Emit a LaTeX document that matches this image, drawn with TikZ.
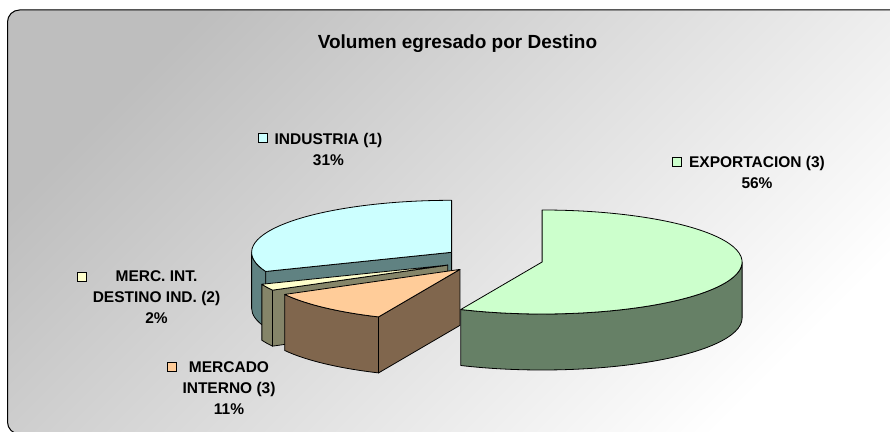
\documentclass[tikz,border=0pt]{standalone}
\usepackage{fontspec}
\setmainfont{Liberation Sans}
\usetikzlibrary{calc}
\definecolor{indTop}{HTML}{CCFFFF}
\definecolor{indSide}{RGB}{96,130,130}
\definecolor{merTop}{HTML}{FFFFCC}
\definecolor{merSide}{RGB}{133,133,105}
\definecolor{intTop}{HTML}{FFCC99}
\definecolor{intSide}{RGB}{128,102,77}
\definecolor{expTop}{HTML}{CCFFCC}
\definecolor{expSide}{RGB}{102,128,102}
\definecolor{bgDark}{RGB}{190,190,190}
\tikzset{
  face/.style={draw=black, line width=0.8pt, line join=round},
  lbl/.style={anchor=north, inner sep=0pt, align=center, font=\fontsize{15.5}{21}\selectfont\bfseries},
  keybox/.style={draw=black, line width=0.7pt, minimum size=9pt, inner sep=0pt}
}
\begin{document}
\begin{tikzpicture}[x=1pt, y=1pt]
\useasboundingbox (0,0) rectangle (890,431);
\fill[white] (0,0) rectangle (890,431);
\shadedraw[rounded corners=12pt, top color=bgDark, bottom color=white, shading angle=45, line width=1pt] (7.5,-3) rectangle (910,421);
\node[anchor=base, font=\fontsize{19}{23}\selectfont\bfseries] (title) at (457.5,382.7) {Volumen egresado por Destino};

\coordinate (apexInd) at (451.6,178.7);
\coordinate (apexMer) at (447.8,165.9);
\coordinate (apexInt) at (459.9,161.6);
\coordinate (apexExp) at (542.1,169.0);

\filldraw[face, fill=indSide] ($(apexInd)+(180:200 and 52)$) arc[start angle=180, end angle=201.6, x radius=200, y radius=52] -- ++(0,-56) arc[start angle=201.6, end angle=180, x radius=200, y radius=52] -- cycle;
\filldraw[face, fill=indSide] (apexInd) -- ++(201.6:200 and 52) -- ++(0,-56) -- ($(apexInd)+(0,-56)$) -- cycle;
\filldraw[face, fill=indTop] (apexInd) -- ++(90:200 and 52) arc[start angle=90, end angle=201.6, x radius=200, y radius=52] -- cycle;

\filldraw[face, fill=merSide] ($(apexMer)+(201.6:200 and 52)$) arc[start angle=201.6, end angle=208.8, x radius=200, y radius=52] -- ++(0,-56) arc[start angle=208.8, end angle=201.6, x radius=200, y radius=52] -- cycle;
\filldraw[face, fill=merSide] (apexMer) -- ++(208.8:200 and 52) -- ++(0,-56) -- ($(apexMer)+(0,-56)$) -- cycle;
\filldraw[face, fill=merTop] (apexMer) -- ++(201.6:200 and 52) arc[start angle=201.6, end angle=208.8, x radius=200, y radius=52] -- cycle;

\filldraw[face, fill=intSide] ($(apexInt)+(208.8:200 and 52)$) arc[start angle=208.8, end angle=246, x radius=200, y radius=52] -- ++(0,-56) arc[start angle=246, end angle=208.8, x radius=200, y radius=52] -- cycle;
\filldraw[face, fill=intSide] (apexInt) -- ++(246:200 and 52) -- ++(0,-56) -- ($(apexInt)+(0,-56)$) -- cycle;
\filldraw[face, fill=intTop] (apexInt) -- ++(208.8:200 and 52) arc[start angle=208.8, end angle=246, x radius=200, y radius=52] -- cycle;

\filldraw[face, fill=expSide] ($(apexExp)+(246:200 and 52)$) arc[start angle=246, end angle=360, x radius=200, y radius=52] -- ++(0,-56) arc[start angle=360, end angle=246, x radius=200, y radius=52] -- cycle;
\filldraw[face, fill=expTop] (apexExp) -- ++(246:200 and 52) arc[start angle=246, end angle=450, x radius=200, y radius=52] -- cycle;

\node[lbl] (lblInd) at (328.5,298.3) {INDUSTRIA (1)\\31\%};
\node[keybox, fill=indTop] (keyInd) at (262.5,293.5) {};
\node[lbl] (lblExp) at (757,274.8) {EXPORTACION (3)\\56\%};
\node[keybox, fill=expTop] (keyExp) at (677,269) {};
\node[lbl] (lblMer) at (156.5,160.3) {MERC. INT.\\DESTINO IND. (2)\\2\%};
\node[keybox, fill=merTop] (keyMer) at (81.5,154.5) {};
\node[lbl] (lblInt) at (229,69.3) {MERCADO\\INTERNO (3)\\11\%};
\node[keybox, fill=intTop] (keyInt) at (172,64) {};
\end{tikzpicture}
\end{document}
